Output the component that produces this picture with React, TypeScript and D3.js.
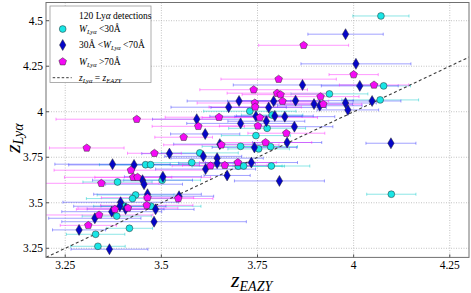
import * as React from "react";
import { scaleLinear } from "d3";

const xTicks = [3.25, 3.5, 3.75, 4, 4.25];
const yTicks = [3.25, 3.5, 3.75, 4, 4.25, 4.5];

// [z_EAZY, z_Lya, z_EAZY error]
const lowEw = [
  [4.071, 4.526, 0.073], [4.078, 4.142, 0.07], [3.937, 4.098, 0.1], [4.069, 4.065, 0.1],
  [3.73, 4.003, 0.12], [3.788, 3.982, 0.08], [3.775, 3.909, 0.1], [3.746, 3.869, 0.09],
  [3.706, 3.81, 0.1], [3.753, 3.796, 0.08], [3.784, 3.808, 0.07], [3.6, 3.774, 0.1],
  [3.579, 3.721, 0.11], [3.7, 3.701, 0.12], [3.714, 3.702, 0.1], [3.786, 3.702, 0.1],
  [4.098, 3.547, 0.064], [3.459, 3.709, 0.12], [3.472, 3.709, 0.1], [3.502, 3.624, 0.1],
  [3.386, 3.614, 0.09], [3.433, 3.543, 0.1], [3.425, 3.523, 0.12], [3.404, 3.481, 0.08],
  [3.473, 3.481, 0.13], [3.384, 3.427, 0.09], [3.417, 3.36, 0.06], [3.329, 3.327, 0.076],
  [3.335, 3.261, 0.071],
];

const midEw = [
  [3.979, 4.426, 0.098], [4.006, 4.263, 0.143], [3.867, 4.147, 0.18], [4.016, 4.142, 0.1],
  [3.702, 4.059, 0.135], [3.792, 4.058, 0.12], [3.849, 4.061, 0.15], [3.897, 4.042, 0.1],
  [3.912, 4.033, 0.11], [3.979, 4.048, 0.08], [4.048, 4.059, 0.075], [3.779, 4.023, 0.15],
  [3.985, 4.01, 0.08], [3.675, 4.025, 0.15], [3.746, 3.975, 0.12], [3.795, 3.977, 0.1],
  [3.821, 3.973, 0.13], [3.592, 3.959, 0.115], [3.706, 3.936, 0.14], [3.773, 3.948, 0.1],
  [3.846, 3.918, 0.1], [3.614, 3.878, 0.09], [3.652, 3.822, 0.12], [3.742, 3.804, 0.11],
  [3.827, 3.831, 0.09], [4.097, 3.827, 0.065], [3.609, 3.755, 0.1], [3.645, 3.745, 0.12],
  [3.645, 3.717, 0.1], [3.734, 3.721, 0.12], [3.615, 3.685, 0.13], [3.671, 3.65, 0.06],
  [3.807, 3.62, 0.117], [3.521, 3.77, 0.072], [3.373, 3.712, 0.15], [3.429, 3.708, 0.17],
  [3.451, 3.624, 0.13], [3.455, 3.602, 0.1], [3.504, 3.643, 0.1], [3.464, 3.547, 0.14],
  [3.546, 3.536, 0.09], [3.394, 3.503, 0.15], [3.392, 3.481, 0.12], [3.407, 3.466, 0.1],
  [3.371, 3.451, 0.13], [3.485, 3.464, 0.1], [3.327, 3.415, 0.12], [3.481, 3.396, 0.24],
  [3.286, 3.351, 0.069], [3.365, 3.245, 0.1],
];

const highEw = [
  [3.87, 4.365, 0.117], [4.0, 4.204, 0.064], [3.805, 4.179, 0.15], [4.053, 4.147, 0.09],
  [3.74, 4.121, 0.14], [3.914, 4.083, 0.1], [3.801, 4.102, 0.13], [3.81, 4.094, 0.1],
  [3.815, 4.058, 0.12], [3.743, 4.048, 0.15], [3.921, 4.041, 0.1], [3.744, 4.026, 0.12],
  [3.756, 3.968, 0.15], [3.65, 3.97, 0.14], [3.436, 3.959, 0.21], [3.596, 3.92, 0.12],
  [3.751, 3.922, 0.1], [3.825, 3.882, 0.1], [3.558, 3.86, 0.075], [3.306, 3.801, 0.097],
  [3.771, 3.831, 0.12], [3.656, 3.818, 0.15], [3.482, 3.772, 0.07], [3.699, 3.721, 0.1],
  [3.628, 3.703, 0.1], [3.665, 3.706, 0.11], [3.421, 3.679, 0.2], [3.427, 3.64, 0.1],
  [3.438, 3.64, 0.19], [3.344, 3.607, 0.15], [3.464, 3.528, 0.12], [3.544, 3.523, 0.09],
  [3.413, 3.471, 0.13], [3.379, 3.464, 0.1], [3.462, 3.486, 0.12], [3.338, 3.433, 0.14],
  [3.31, 3.376, 0.073],
];

const serif = "'Liberation Serif', 'DejaVu Serif', serif";

const circlePath = (r: number) =>
  `M${-r},0A${r},${r} 0 1,0 ${r},0A${r},${r} 0 1,0 ${-r},0Z`;
const diamondPath = (w: number, h: number) => `M0,${-h}L${w},0L0,${h}L${-w},0Z`;
const pentagonPath = (r: number) =>
  [0, 1, 2, 3, 4]
    .map((k) => {
      const a = (-90 + k * 72) * (Math.PI / 180);
      return `${k ? "L" : "M"}${(r * Math.cos(a)).toFixed(2)},${(r * Math.sin(a)).toFixed(2)}`;
    })
    .join("") + "Z";

const series = [
  { data: lowEw, fill: "#19e6e6", bar: "#00c8c8", path: circlePath(3.4) },
  { data: midEw, fill: "#0505c8", bar: "#3030ff", path: diamondPath(3.2, 5.5) },
  { data: highEw, fill: "#f50af5", bar: "#ff20ff", path: pentagonPath(4) },
];

export default function App() {
  const x = scaleLinear().domain([3.2, 4.3]).range([46, 469]);
  const y = scaleLinear().domain([3.2, 4.6]).range([257.4, 2.5]);
  const [x0, x1] = x.range();
  const [y0, y1] = y.range();

  return (
    <svg
      width={471}
      height={293}
      style={{ position: "absolute", left: 0, top: 0, background: "white" }}
      fontFamily={serif}
    >
      <defs>
        <clipPath id="plot">
          <rect x={x0} y={y1} width={x1 - x0} height={y0 - y1} />
        </clipPath>
      </defs>

      {/* grid */}
      {xTicks.map((t) => (
        <line key={`gx${t}`} x1={x(t)} x2={x(t)} y1={y1} y2={y0}
          stroke="#b4b4b4" strokeWidth={0.8} strokeDasharray="1,1.5" />
      ))}
      {yTicks.map((t) => (
        <line key={`gy${t}`} x1={x0} x2={x1} y1={y(t)} y2={y(t)}
          stroke="#b4b4b4" strokeWidth={0.8} strokeDasharray="1,1.5" />
      ))}

      <g clipPath="url(#plot)">
        {/* error bars */}
        {series.map((s, si) => (
          <g key={`e${si}`} stroke={s.bar} strokeOpacity={0.45} strokeWidth={1}>
            {s.data.map((d, i) => {
              const yy = y(d[1]);
              const a = x(d[0] - d[2]);
              const b = x(d[0] + d[2]);
              return (
                <g key={i}>
                  <line x1={a} x2={b} y1={yy} y2={yy} />
                  <line x1={a} x2={a} y1={yy - 1.5} y2={yy + 1.5} />
                  <line x1={b} x2={b} y1={yy - 1.5} y2={yy + 1.5} />
                </g>
              );
            })}
          </g>
        ))}

        {/* one-to-one line */}
        <line x1={x(3.2)} y1={y(3.2)} x2={x(4.3)} y2={y(4.3)}
          stroke="#3c3c3c" strokeWidth={1.1} strokeDasharray="3,2.5" />

        {/* markers */}
        {series.map((s, si) => (
          <g key={`m${si}`}>
            {s.data.map((d, i) => (
              <path key={i} d={s.path} transform={`translate(${x(d[0])},${y(d[1])})`}
                fill={s.fill} stroke="#2a2a2a" strokeWidth={0.5} />
            ))}
          </g>
        ))}
      </g>

      {/* frame */}
      <rect x={x0} y={y1} width={x1 - x0} height={y0 - y1} fill="none" stroke="#707070" strokeWidth={1} />

      {/* ticks */}
      {xTicks.map((t) => (
        <g key={`tx${t}`}>
          <line x1={x(t)} x2={x(t)} y1={y0} y2={y0 - 3} stroke="#555" />
          <text x={x(t)} y={268.5} textAnchor="middle" fontSize={11.5}>{t}</text>
        </g>
      ))}
      {yTicks.map((t) => (
        <g key={`ty${t}`}>
          <line x1={x0} x2={x0 + 3} y1={y(t)} y2={y(t)} stroke="#555" />
          <text x={43} y={y(t) + 4} textAnchor="end" fontSize={11.5}>{t}</text>
        </g>
      ))}

      {/* axis labels */}
      <text x={231} y={286.5} fontSize={22} fontStyle="italic">
        z<tspan fontSize={14} dy={4}>EAZY</tspan>
      </text>
      <text transform="translate(20,153) rotate(-90)" fontSize={22} fontStyle="italic">
        z<tspan fontSize={14} dy={3}>Lyα</tspan>
      </text>

      {/* legend */}
      <g fontSize={9.5}>
        <rect x={50} y={6} width={101} height={76.5} fill="white" stroke="#9a9a9a" strokeWidth={0.8} />
        <text x={79} y={18.5}>120 Ly<tspan fontStyle="italic">α</tspan> detections</text>

        <path d={circlePath(3.4)} transform="translate(62.7,29)" fill={series[0].fill} stroke="#2a2a2a" strokeWidth={0.5} />
        <text x={79} y={32}>
          <tspan fontStyle="italic">W</tspan><tspan fontSize={6.5} fontStyle="italic" dy={2}>Lyα</tspan>
          <tspan dy={-2}> &lt;30Å</tspan>
        </text>

        <path d={diamondPath(3.2, 5.5)} transform="translate(62.7,45)" fill={series[1].fill} stroke="#2a2a2a" strokeWidth={0.5} />
        <text x={79} y={48}>
          30Å &lt;<tspan fontStyle="italic">W</tspan><tspan fontSize={6.5} fontStyle="italic" dy={2}>Lyα</tspan>
          <tspan dy={-2}> &lt;70Å</tspan>
        </text>

        <path d={pentagonPath(4)} transform="translate(62.7,61.7)" fill={series[2].fill} stroke="#2a2a2a" strokeWidth={0.5} />
        <text x={79} y={64.7}>
          <tspan fontStyle="italic">W</tspan><tspan fontSize={6.5} fontStyle="italic" dy={2}>Lyα</tspan>
          <tspan dy={-2}> &gt;70Å</tspan>
        </text>

        <line x1={52.7} x2={71.7} y1={77.7} y2={77.7} stroke="#3c3c3c" strokeWidth={1} strokeDasharray="2.5,2" />
        <text x={79} y={80.7}>
          <tspan fontStyle="italic">z</tspan><tspan fontSize={6.5} fontStyle="italic" dy={2}>Lyα</tspan>
          <tspan dy={-2}> = </tspan><tspan fontStyle="italic">z</tspan>
          <tspan fontSize={6.5} fontStyle="italic" dy={2}>EAZY</tspan>
        </text>
      </g>
    </svg>
  );
}
